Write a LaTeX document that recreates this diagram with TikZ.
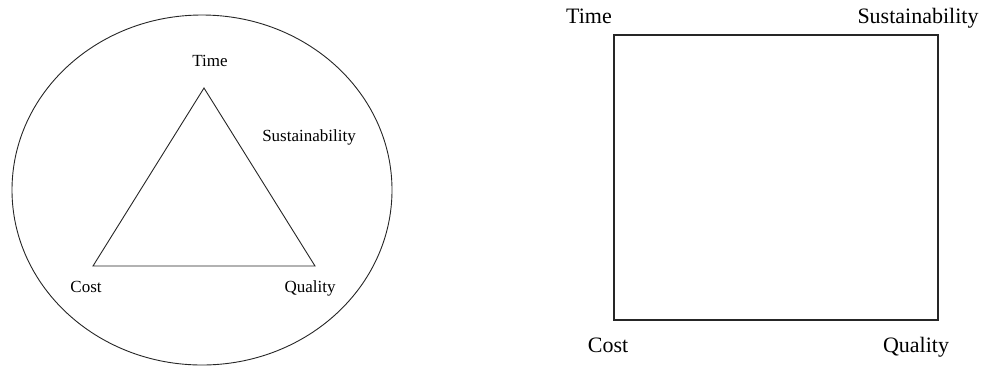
\documentclass[tikz,border=0pt]{standalone}
\usepackage{fontspec}
\setmainfont{Liberation Serif}
\usetikzlibrary{shapes.geometric}
\begin{document}
\begin{tikzpicture}[x=1pt,y=-1pt,
  shape line/.style={draw=black!85,line width=0.9pt,line join=miter},
  smalllab/.style={anchor=base,inner sep=0pt,font=\fontsize{17}{19}\selectfont},
  biglab/.style={anchor=base,inner sep=0pt,font=\fontsize{22}{25}\selectfont}]
\useasboundingbox (0,0) rectangle (982,365);
% left diagram
\node[shape line,ellipse,minimum width=380pt,minimum height=350pt,inner sep=0pt] (oval) at (202,190) {};
\coordinate (tA) at (204,88);
\coordinate (tB) at (93,266);
\coordinate (tC) at (315,266);
\draw[shape line] (tA) -- (tC) -- (tB) -- cycle;
\node[smalllab] (ltime) at (210,66) {Time};
\node[smalllab] (lsus) at (309,141) {Sustainability};
\node[smalllab] (lcost) at (86,292) {Cost};
\node[smalllab] (lqual) at (310,292) {Quality};
% right diagram
\coordinate (sTL) at (614,35);
\coordinate (sBR) at (938,320);
\draw[shape line,line width=1.2pt] (sTL) rectangle (sBR);
\node[biglab] (rtime) at (589,23) {Time};
\node[biglab] (rsus) at (918,23) {Sustainability};
\node[biglab] (rcost) at (608,352) {Cost};
\node[biglab] (rqual) at (916,352) {Quality};
\end{tikzpicture}
\end{document}
